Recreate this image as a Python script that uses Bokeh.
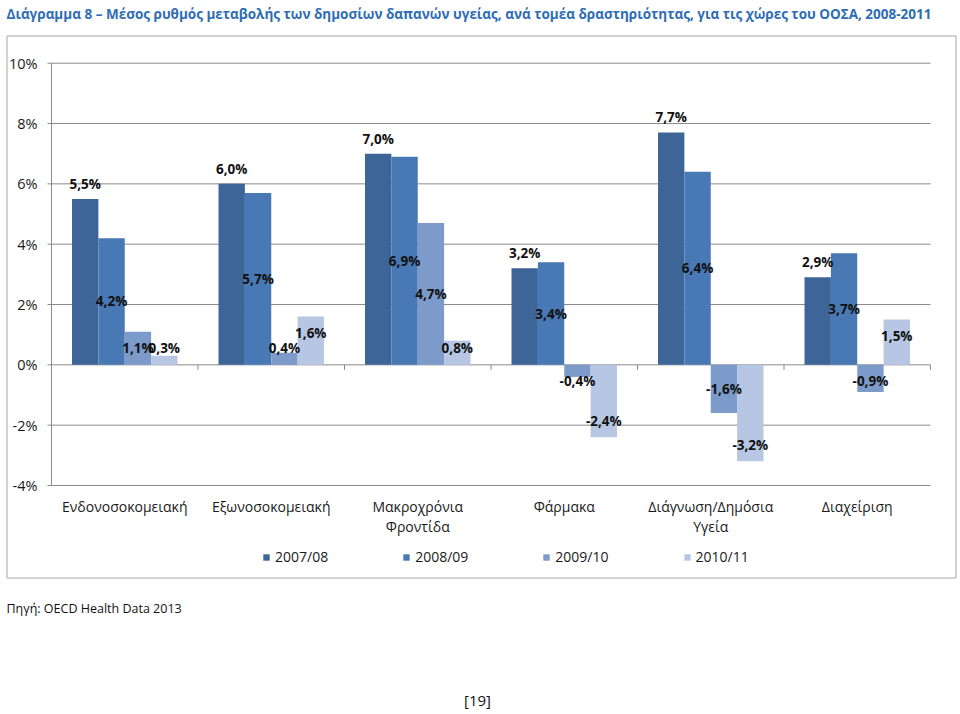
from bokeh.plotting import figure
from bokeh.models import ColumnDataSource, Range1d, Legend, LegendItem
from bokeh.core.properties import value
from bokeh.embed import file_html
from bokeh.resources import INLINE

# ---------------- data ----------------
categories = ["Ενδονοσοκομειακή", "Εξωνοσοκομειακή", "Μακροχρόνια\nΦροντίδα",
              "Φάρμακα", "Διάγνωση/Δημόσια\nΥγεία", "Διαχείριση"]
series_names = ["2007/08", "2008/09", "2009/10", "2010/11"]
s_2007_08 = [5.5, 6.0, 7.0, 3.2, 7.7, 2.9]
s_2008_09 = [4.2, 5.7, 6.9, 3.4, 6.4, 3.7]
s_2009_10 = [1.1, 0.4, 4.7, -0.4, -1.6, -0.9]
s_2010_11 = [0.3, 1.6, 0.8, -2.4, -3.2, 1.5]
y_ticks = [-4, -2, 0, 2, 4, 6, 8, 10]

title_text = ("Διάγραμμα 8 – Μέσος ρυθμός μεταβολής των δημοσίων δαπανών υγείας, "
              "ανά τομέα δραστηριότητας, για τις χώρες του ΟΟΣΑ, 2008-2011")
source_text = "Πηγή: OECD Health Data 2013"
page_text = "[19]"

series_values = [s_2007_08, s_2008_09, s_2009_10, s_2010_11]
colors = ["#3D6598", "#4879B5", "#7C9BCA", "#B7C7E3"]
FONT = "Open Sans"
TXT = "#1a1a1a"
GRID = "#8a8a8a"

# ---------------- geometry (pixels) ----------------
W, H = 958, 712
PA_L, PA_R, PA_T, PA_B = 51, 930, 62.7, 485      # plot area
n_cat = len(categories)
y_min, y_max = y_ticks[0], y_ticks[-1]
ppx = (PA_R - PA_L) / n_cat
ppy = (PA_B - PA_T) / (y_max - y_min)

x_range = Range1d(-PA_L / ppx, n_cat + (W - PA_R) / ppx)
y_range = Range1d(y_min - (H - PA_B) / ppy, y_max + PA_T / ppy)

p = figure(width=W, height=H, output_backend="svg", toolbar_location=None,
           x_range=x_range, y_range=y_range, x_axis_type=None, y_axis_type=None,
           title=None, min_border=0, min_border_left=0, min_border_right=0,
           min_border_top=0, min_border_bottom=0)
p.extra_x_ranges = {"px": Range1d(0, W)}
p.extra_y_ranges = {"py": Range1d(H, 0)}
p.outline_line_color = None
p.xgrid.grid_line_color = None
p.ygrid.grid_line_color = None
p.background_fill_color = "white"
p.border_fill_color = "white"

# chart border box
p.quad(left=[6.5], right=[955.5], top=[35.5], bottom=[577.5],
       x_range_name="px", y_range_name="py",
       fill_color=None, line_color="#a6a6a6", line_width=1)

# horizontal gridlines across the plot area
p.segment(x0=[0] * len(y_ticks), x1=[n_cat] * len(y_ticks), y0=y_ticks, y1=y_ticks,
          line_color=GRID, line_width=1)
# value axis line and outward ticks
p.segment(x0=[0], x1=[0], y0=[y_min], y1=[y_max], line_color=GRID, line_width=1)
p.segment(x0=[PA_L - 4] * len(y_ticks), x1=[PA_L] * len(y_ticks), y0=y_ticks, y1=y_ticks,
          x_range_name="px", line_color=GRID, line_width=1)
# value tick labels
p.text(x=[PA_L - 14] * len(y_ticks), y=y_ticks, text=[f"{t}%" for t in y_ticks],
       x_range_name="px", text_font=value(FONT), text_font_size="14.5px",
       text_color=TXT, text_align="right", text_baseline="middle")

# category boundary ticks on the zero line
bounds = [i + 1 for i in range(n_cat)]
p.segment(x0=bounds, x1=bounds, y0=[0] * n_cat, y1=[-5 / ppy] * n_cat,
          line_color=GRID, line_width=1)

# category labels below the plot area
centers = [i + 0.5 for i in range(n_cat)]
p.text(x=centers, y=[PA_B + 11] * n_cat, text=categories, y_range_name="py",
       text_font=value(FONT), text_font_size="14px", text_color=TXT,
       text_align="center", text_baseline="top", text_line_height=1.1)

# bars
offsets = [-0.27, -0.09, 0.09, 0.27]
bw = 0.18
items = []
for j, (name, vals) in enumerate(zip(series_names, series_values)):
    xs = [c + offsets[j] for c in centers]
    src = ColumnDataSource(dict(x=xs, top=vals))
    r = p.vbar(x="x", top="top", bottom=0, width=bw, source=src,
               fill_color=colors[j], line_color=None)
    items.append(LegendItem(label=name, renderers=[r]))


# data labels (Excel-like positions)
def label_y(j, v):
    s = 1 if v >= 0 else -1
    if j == 0:
        return v + 0.5 * s
    if j == 1:
        return v / 2
    if j == 2:
        y = v / 2
    else:
        y = v - 0.53 * s
    if abs(y) < 0.55 or (y * s) < 0:
        y = 0.55 * s
    return y


for j, vals in enumerate(series_values):
    xs = [c + offsets[j] for c in centers]
    ys = [label_y(j, v) for v in vals]
    txt = [f"{v:.1f}%".replace(".", ",") for v in vals]
    p.text(x=xs, y=ys, text=txt, text_font=value(FONT), text_font_style="bold",
           text_font_size="13.5px", text_align="center", text_baseline="middle",
           text_color="#111111")

# legend
legend = Legend(items=items, orientation="horizontal", location=(262, H - 566),
                glyph_width=8, glyph_height=8, label_standoff=5, spacing=74,
                padding=0, margin=0, border_line_color=None,
                background_fill_alpha=0,
                label_text_font=FONT, label_text_font_size="14px",
                label_text_color=TXT)
p.add_layout(legend)

# title, source, page number
p.text(x=[6], y=[13], text=[title_text], x_range_name="px", y_range_name="py",
       text_font=value(FONT), text_font_style="bold", text_font_size="13.5px",
       text_color="#2E6DB4", text_align="left", text_baseline="middle")
p.text(x=[6], y=[608], text=[source_text], x_range_name="px", y_range_name="py",
       text_font=value(FONT), text_font_size="12.5px", text_color="#111111",
       text_align="left", text_baseline="middle")
p.text(x=[477], y=[699], text=[page_text], x_range_name="px", y_range_name="py",
       text_font=value(FONT), text_font_size="15px", text_color="#111111",
       text_align="center", text_baseline="middle")

open("out.html", "w").write(file_html(p, INLINE))
